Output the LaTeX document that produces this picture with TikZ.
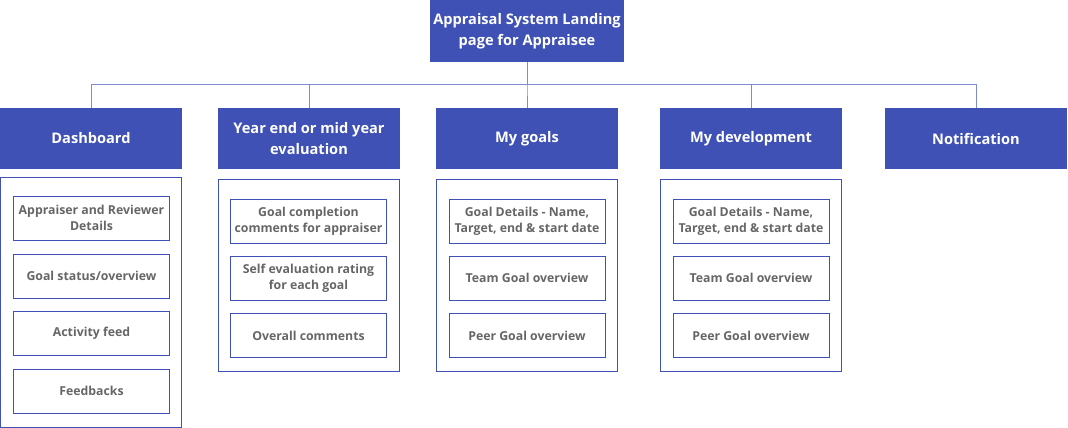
\documentclass[tikz,border=0pt]{standalone}
\usepackage{fontspec}
\setmainfont{Open Sans}
\definecolor{hdr}{HTML}{3F51B5}
\definecolor{link}{HTML}{7F8BCF}
\definecolor{itemtxt}{HTML}{666666}
\begin{document}
\begin{tikzpicture}[x=1pt,y=-1pt,
  head/.style={fill=hdr, text=white, font=\bfseries\fontsize{14.6}{21.5}\selectfont,
    align=center, minimum width=182pt, minimum height=61pt, inner sep=0pt},
  panel/.style={draw=hdr, line width=0.9pt, minimum width=181pt, inner sep=0pt},
  item/.style={draw=hdr, line width=0.9pt, text=itemtxt,
    font=\bfseries\fontsize{12.3}{16.2}\selectfont, align=center,
    minimum width=156pt, minimum height=44pt, inner sep=0pt},
  conn/.style={draw=link, line width=1pt}]
\useasboundingbox (0,0) rectangle (1068,428);

% root and first-level headers
\node[head, minimum width=194pt, minimum height=62pt] (root) at (527,31)
  {Appraisal System Landing\\page for Appraisee};
\node[head] (dash) at (91,138.5) {Dashboard};
\node[head] (year) at (309,138.5) {Year end or mid year\\evaluation};
\node[head] (goals) at (527,138.5) {My goals};
\node[head] (dev) at (751,138.5) {My development};
\node[head] (note) at (976,138.5) {Notification};

% tree connectors
\foreach \h in {dash,year,goals,dev,note}
  \draw[conn] (root.south) -- ++(0,22) -| (\h.north);

% panels holding the sub-items
\node[panel, minimum height=250pt] (dashp) at (91,302) {};
\node[panel, minimum height=192pt] (yearp) at (309,275) {};
\node[panel, minimum height=192pt] (goalsp) at (527,275) {};
\node[panel, minimum height=192pt] (devp) at (751,275) {};

% Dashboard items
\node[item] (d1) at (91.5,218) {Appraiser and Reviewer\\Details};
\node[item] (d2) at (91.5,276) {Goal status/overview};
\node[item] (d3) at (91.5,333.5) {Activity feed};
\node[item] (d4) at (91.5,391) {Feedbacks};

% Evaluation items
\node[item] (y1) at (308.5,221) {Goal completion\\comments for appraiser};
\node[item] (y2) at (308.5,278) {Self evaluation rating\\for each goal};
\node[item] (y3) at (308.5,335.5) {Overall comments};

% Goals items
\node[item] (g1) at (527,221) {Goal Details - Name,\\Target, end \& start date};
\node[item] (g2) at (527,278) {Team Goal overview};
\node[item] (g3) at (527,335.5) {Peer Goal overview};

% Development items
\node[item] (v1) at (751,221) {Goal Details - Name,\\Target, end \& start date};
\node[item] (v2) at (751,278) {Team Goal overview};
\node[item] (v3) at (751,335.5) {Peer Goal overview};
\end{tikzpicture}
\end{document}
